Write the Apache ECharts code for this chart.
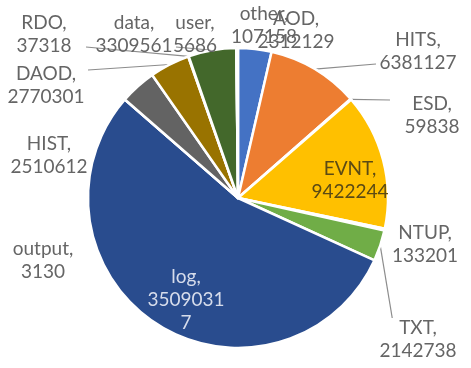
<!DOCTYPE html>
<html>
<head>
<meta charset="utf-8">
<script src="https://cdn.jsdelivr.net/npm/echarts@6/dist/echarts.min.js"></script>
<style>
  html, body { margin: 0; padding: 0; background: #ffffff; }
  #chart { width: 471px; height: 368px; }
</style>
</head>
<body>
<div id="chart"></div>
<script>
// File types and their counts, in drawing order (clockwise from 12 o'clock)
const categories = ['AOD', 'HITS', 'ESD', 'EVNT', 'NTUP', 'TXT', 'log', 'output', 'HIST', 'DAOD', 'RDO', 'data', 'user', 'other'];
const counts = [2312129, 6381127, 59838, 9422244, 133201, 2142738, 35090317, 3130, 2510612, 2770301, 37318, 3309561, 5686, 107158];

// Office-style palette, one colour per slice
const sliceColors = ['#4472C4', '#ED7D31', '#A5A5A5', '#FFC000', '#5B9BD5', '#70AD47', '#294C8E', '#9E480E', '#636363', '#997300', '#255E91', '#43682B', '#698ED0', '#F1975A'];

// Where each label block is centred (pixels)
const labelSpots = {
  AOD: [296, 30], HITS: [418, 51], ESD: [432, 115], EVNT: [350, 180],
  NTUP: [425, 244], TXT: [418, 339], log: [186, 300], output: [43, 260],
  HIST: [49, 155], DAOD: [46, 85], RDO: [44, 34], data: [134, 34],
  user: [195, 34], other: [264, 25]
};
// Labels that sit inside their slice, with their text colour
const insideLabels = { EVNT: '#5b4a14', log: '#d6dceb' };
// Labels drawn with a leader line back to their slice
const ledLabels = ['HITS', 'ESD', 'TXT', 'DAOD', 'RDO', 'data', 'user'];

const chart = echarts.init(document.getElementById('chart'), null, { renderer: 'canvas' });

const seriesData = categories.map((name, i) => {
  const item = { name: name, value: counts[i], itemStyle: { color: sliceColors[i] } };
  if (insideLabels[name]) item.label = { color: insideLabels[name] };
  if (ledLabels.indexOf(name) < 0) item.labelLine = { show: false };
  return item;
});

function clamp(v, lo, hi) { return Math.max(lo, Math.min(hi, v)); }

chart.setOption({
  animation: false,
  backgroundColor: '#ffffff',
  series: [{
    type: 'pie',
    center: [238, 198],
    radius: [0, 150],
    startAngle: 90,
    clockwise: true,
    avoidLabelOverlap: false,
    itemStyle: { borderColor: '#ffffff', borderWidth: 2.5 },
    label: {
      show: true,
      position: 'outside',
      formatter: '{b},\n{c}',
      fontFamily: 'Lato',
      fontSize: 19,
      lineHeight: 23,
      color: '#656565',
      align: 'center',
      width: 78,
      overflow: 'breakAll'
    },
    labelLine: {
      show: true,
      length: 10,
      length2: 10,
      lineStyle: { color: '#8c8c8c', width: 1.2 }
    },
    labelLayout: function (params) {
      const name = categories[params.dataIndex];
      const spot = labelSpots[name];
      const out = { x: spot[0], y: spot[1], align: 'center', verticalAlign: 'middle' };
      const pts = params.labelLinePoints;
      if (ledLabels.indexOf(name) >= 0 && pts && pts.length) {
        // Join the slice edge to the nearest side of the moved label block
        const a = pts[0];
        const w = params.labelRect.width, h = params.labelRect.height;
        const left = spot[0] - w / 2, right = spot[0] + w / 2;
        const top = spot[1] - h / 2, bottom = spot[1] + h / 2;
        let end;
        if (a[0] < left - 2) end = [left - 3, clamp(a[1], top + 8, bottom - 10)];
        else if (a[0] > right + 2) end = [right + 3, clamp(a[1], top + 8, bottom - 10)];
        else end = [clamp(a[0] + 12, left, right), a[1] < top ? top + 2 : bottom];
        out.labelLinePoints = [a, end, end];
      }
      return out;
    },
    data: seriesData
  }]
});
</script>
</body>
</html>
